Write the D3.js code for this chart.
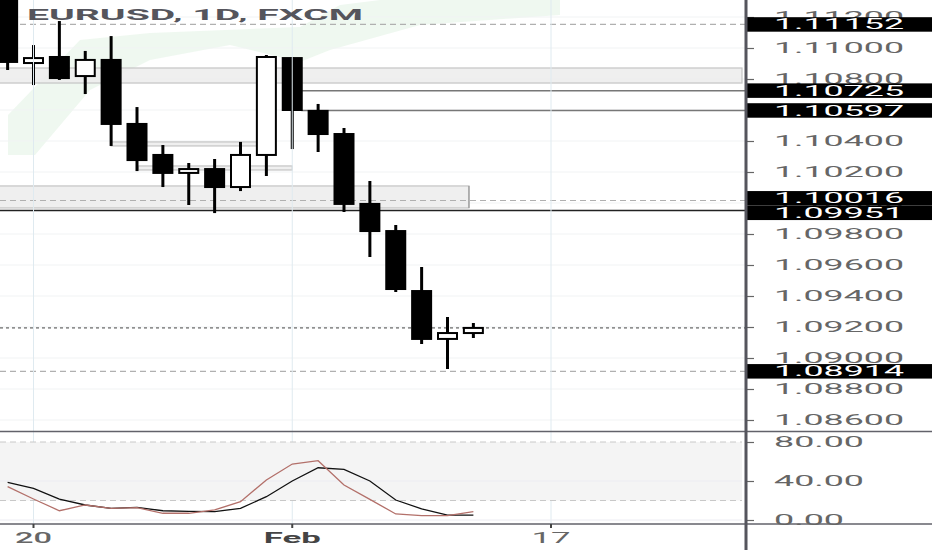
<!DOCTYPE html>
<html>
<head>
<meta charset="utf-8">
<script src="https://cdn.jsdelivr.net/npm/d3@7"></script>
<style>
  body { margin: 0; background: #fff; }
  svg { display: block; font-family: Roboto, "DejaVu Sans", sans-serif; }
</style>
</head>
<body>
<div id="chart"></div>
<script>
// daily candles, EURUSD (index 0 = Jan 17)
const days = ["Jan 17", "Jan 20", "Jan 21", "Jan 22", "Jan 23", "Jan 24", "Jan 27", "Jan 28", "Jan 29",
  "Jan 30", "Jan 31", "Feb 3", "Feb 4", "Feb 5", "Feb 6", "Feb 7", "Feb 10", "Feb 11", "Feb 12"];
const opens = [1.11400, 1.10903, 1.10942, 1.10819, 1.10923, 1.10510, 1.10310, 1.10194, 1.10219,
  1.10103, 1.10310, 1.10935, 1.10594, 1.10445, 1.09994, 1.09819, 1.09432, 1.09123, 1.09161];
const highs = [1.11500, 1.11019, 1.11174, 1.10981, 1.11077, 1.10619, 1.10374, 1.10258, 1.10284,
  1.10394, 1.10955, 1.10942, 1.10639, 1.10484, 1.10142, 1.09858, 1.09587, 1.09265, 1.09226];
const lows = [1.10858, 1.10761, 1.10794, 1.10703, 1.10368, 1.10206, 1.10103, 1.09987, 1.09935,
  1.10077, 1.10174, 1.10348, 1.10329, 1.09942, 1.09652, 1.09426, 1.09090, 1.08929, 1.09129];
const closes = [1.10910, 1.10935, 1.10806, 1.10923, 1.10510, 1.10277, 1.10194, 1.10219, 1.10103,
  1.10310, 1.10942, 1.10600, 1.10445, 1.09994, 1.09819, 1.09445, 1.09123, 1.09161, 1.09194];

// stochastic lines
const kValues = [34.2, 21.5, 9.5, 15.4, 12.0, 12.6, 6.9, 6.9, 10.3, 18.8, 41.0, 57.4, 60.8, 35.9, 21.2, 6.2, 4.4, 4.4, 8.5];
const dValues = [38.7, 32.5, 21.5, 15.4, 12.0, 13.0, 9.5, 8.9, 8.5, 12.0, 23.9, 40.0, 53.6, 52.0, 40.0, 20.5, 11.3, 5.1, 5.1];

// axis ticks
const priceTicks = [1.086, 1.088, 1.090, 1.092, 1.094, 1.096, 1.098, 1.100, 1.102, 1.104, 1.106, 1.108, 1.110, 1.112];
const oscTicks = [0, 40, 80];
const timeTicks = [1, 11, 21];
const timeLabels = ["20", "Feb", "17"];

// drawn levels
const markedPrices = [1.11152, 1.10725, 1.10597, 1.10016, 1.09951, 1.08914];
const dashedPrices = [1.11152, 1.10016, 1.08914];
const lastPrice = 1.09194;
const boxZones = [
  { top: 1.10871, bottom: 1.10774, from: -1, to: null },
  { top: 1.10394, bottom: 1.10368, from: 4, to: 9.7 },
  { top: 1.10239, bottom: 1.10213, from: 5.05, to: 11 },
  { top: 1.10110, bottom: 1.09968, from: -1, to: 17.83 }
];
const rayLevels = [{ price: 1.10725, from: 11.35 }, { price: 1.10597, from: 11.35 }];
const solidLevel = 1.09951;

// set the dimensions of the panes
const W = 932, H = 550;
const axisX = 746, plotRight = 742;
const mainBottom = 431.5, oscBottom = 524;
const boxH = 14.5;

const svg = d3.select("#chart").append("svg")
  .attr("width", W).attr("height", H);

const x = d3.scaleLinear().domain([1, 21]).range([33.5, 551]);
const y = d3.scaleLinear().domain([1.092, 1.102]).range([327, 172]);
const yo = d3.scaleLinear().domain([0, 80]).range([520, 442]);

svg.append("clipPath").attr("id", "mainClip")
  .append("rect").attr("x", 0).attr("y", 0).attr("width", axisX - 1).attr("height", mainBottom);
svg.append("clipPath").attr("id", "oscClip")
  .append("rect").attr("x", 0).attr("y", mainBottom).attr("width", plotRight).attr("height", oscBottom - mainBottom);

const main = svg.append("g").attr("clip-path", "url(#mainClip)");

// faint green backdrop
main.append("path")
  .attr("d", "M8,115 L80,40 L150,33 L300,27 L340,5 L380,0 L560,0 L560,15 L420,25 L330,50 L300,62 L230,45 L150,60 L90,90 L35,155 L8,155 Z")
  .attr("fill", "#e9f5eb").attr("opacity", 0.75);

// horizontal grid
main.selectAll(".hgrid").data(priceTicks).enter().append("line")
  .attr("x1", 0).attr("x2", axisX)
  .attr("y1", d => y(d)).attr("y2", d => y(d))
  .attr("stroke", "#f1f3f4").attr("stroke-width", 1);

// vertical grid
svg.selectAll(".vgrid").data(timeTicks).enter().append("line")
  .attr("x1", d => x(d)).attr("x2", d => x(d))
  .attr("y1", 0).attr("y2", oscBottom)
  .attr("stroke", "#dfeaf0").attr("stroke-width", 1);

// zones
main.selectAll(".zone").data(boxZones).enter().append("rect")
  .attr("x", d => x(d.from))
  .attr("y", d => y(d.top))
  .attr("width", d => (d.to === null ? plotRight : x(d.to)) - x(d.from))
  .attr("height", d => y(d.bottom) - y(d.top))
  .attr("fill", "#ececec").attr("fill-opacity", 0.85)
  .attr("stroke", "#c4c4c4").attr("stroke-width", 1.2);
main.selectAll(".zoneEdge").data(boxZones.filter(d => d.to !== null && d.top - d.bottom > 0.001)).enter().append("line")
  .attr("x1", d => x(d.to)).attr("x2", d => x(d.to))
  .attr("y1", d => y(d.top)).attr("y2", d => y(d.bottom))
  .attr("stroke", "#888").attr("stroke-width", 1);

// rays
main.selectAll(".ray").data(rayLevels).enter().append("line")
  .attr("x1", d => x(d.from)).attr("x2", axisX)
  .attr("y1", d => y(d.price)).attr("y2", d => y(d.price))
  .attr("stroke", "#777").attr("stroke-width", 1.5);

// dashed levels
main.selectAll(".dash").data(dashedPrices).enter().append("line")
  .attr("x1", 0).attr("x2", axisX)
  .attr("y1", d => y(d)).attr("y2", d => y(d))
  .attr("stroke", "#b0b0b0").attr("stroke-width", 1.2)
  .attr("stroke-dasharray", "6,4");
main.append("line")
  .attr("x1", 0).attr("x2", axisX)
  .attr("y1", y(solidLevel)).attr("y2", y(solidLevel))
  .attr("stroke", "#222").attr("stroke-width", 1.5);
main.append("line")
  .attr("x1", 0).attr("x2", axisX)
  .attr("y1", y(lastPrice)).attr("y2", y(lastPrice))
  .attr("stroke", "#444").attr("stroke-width", 1)
  .attr("stroke-dasharray", "3,3");

// candles
const candles = main.selectAll(".candle").data(days).enter().append("g");
candles.append("line")
  .attr("x1", (d, i) => x(i)).attr("x2", (d, i) => x(i))
  .attr("y1", (d, i) => y(highs[i])).attr("y2", (d, i) => y(lows[i]))
  .attr("stroke", "#000").attr("stroke-width", 3);
candles.append("rect")
  .attr("x", (d, i) => x(i) - 9.5)
  .attr("y", (d, i) => y(Math.max(opens[i], closes[i])))
  .attr("width", 19)
  .attr("height", (d, i) => Math.max(2, Math.abs(y(opens[i]) - y(closes[i]))))
  .attr("fill", (d, i) => closes[i] >= opens[i] ? "#fff" : "#000")
  .attr("stroke", "#000").attr("stroke-width", 2);

// title
svg.append("text")
  .attr("x", 27).attr("y", 20)
  .attr("textLength", 336).attr("lengthAdjust", "spacingAndGlyphs")
  .attr("font-size", 14).attr("font-weight", "bold")
  .attr("fill", "#55555c")
  .text("EURUSD, 1D, FXCM");

// oscillator band
svg.append("rect")
  .attr("x", 0).attr("y", yo(80)).attr("width", plotRight).attr("height", yo(20) - yo(80))
  .attr("fill", "#f4f4f4");
svg.selectAll(".oscDash").data([80, 20]).enter().append("line")
  .attr("x1", 0).attr("x2", plotRight)
  .attr("y1", d => yo(d)).attr("y2", d => yo(d))
  .attr("stroke", "#c8c8c8").attr("stroke-dasharray", "6,4");
svg.selectAll(".oscGrid").data([40, 0]).enter().append("line")
  .attr("x1", 0).attr("x2", plotRight)
  .attr("y1", d => yo(d)).attr("y2", d => yo(d))
  .attr("stroke", "#ececf2");

const osc = svg.append("g").attr("clip-path", "url(#oscClip)");
const line = d3.line().x((d, i) => x(i)).y(d => yo(d));
osc.append("path").datum(dValues).attr("d", line)
  .attr("fill", "none").attr("stroke", "#111").attr("stroke-width", 1.3);
osc.append("path").datum(kValues).attr("d", line)
  .attr("fill", "none").attr("stroke", "#b3706a").attr("stroke-width", 1.3);

// pane separators
svg.selectAll(".sep").data([mainBottom, oscBottom]).enter().append("line")
  .attr("x1", 0).attr("x2", W)
  .attr("y1", d => d).attr("y2", d => d)
  .attr("stroke", "#62626a").attr("stroke-width", 1.5);

// price axis
const priceAxis = svg.append("g")
  .attr("transform", "translate(" + axisX + ",0)")
  .call(d3.axisRight(y).tickValues(priceTicks).tickFormat(d3.format(".5f")).tickSize(8));
const oscAxis = svg.append("g")
  .attr("transform", "translate(" + axisX + ",0)")
  .call(d3.axisRight(yo).tickValues(oscTicks).tickFormat(d3.format(".2f")).tickSize(8));
[priceAxis, oscAxis].forEach(function (ax) {
  ax.select(".domain").remove();
  ax.selectAll(".tick line").attr("stroke", "#666").attr("stroke-width", 1.2);
  ax.selectAll("text")
    .attr("x", 28)
    .attr("fill", "#666")
    .attr("font-size", 14)
    .attr("font-family", "Roboto, sans-serif")
    .attr("lengthAdjust", "spacingAndGlyphs");
});
priceAxis.selectAll("text").attr("textLength", 130);
oscAxis.selectAll("text").attr("textLength", d => d === 0 ? 70 : 90);

// marked price labels, pushed apart where they collide
const markPos = markedPrices.map(p => ({ price: p, cy: y(p) })).sort((a, b) => a.cy - b.cy);
for (let k = 1; k < markPos.length; k++) {
  const gap = markPos[k].cy - markPos[k - 1].cy;
  if (gap < boxH) {
    const shift = (boxH - gap) / 2;
    markPos[k - 1].cy -= shift;
    markPos[k].cy += shift;
  }
}
const marks = svg.selectAll(".mark").data(markPos).enter().append("g")
  .attr("transform", d => "translate(" + axisX + "," + d.cy + ")");
marks.append("rect")
  .attr("x", 0).attr("y", -boxH / 2).attr("width", W - axisX).attr("height", boxH)
  .attr("fill", "#000");
marks.append("text")
  .attr("x", 28).attr("dy", "0.36em")
  .attr("fill", "#fff").attr("font-size", 14)
  .attr("textLength", 130).attr("lengthAdjust", "spacingAndGlyphs")
  .text(d => d3.format(".5f")(d.price));

// vertical axis line
svg.append("line")
  .attr("x1", axisX).attr("x2", axisX).attr("y1", 0).attr("y2", H)
  .attr("stroke", "#55555d").attr("stroke-width", 3);

// time axis
svg.selectAll(".tmark").data(timeTicks).enter().append("line")
  .attr("x1", d => x(d)).attr("x2", d => x(d))
  .attr("y1", oscBottom).attr("y2", oscBottom + 4)
  .attr("stroke", "#444").attr("stroke-width", 2);
svg.selectAll(".tlabel").data(timeTicks).enter().append("text")
  .attr("x", d => x(d)).attr("y", 543)
  .attr("text-anchor", "middle")
  .attr("font-size", 14)
  .attr("font-weight", (d, i) => i === 1 ? "bold" : (i === 0 ? "500" : "normal"))
  .attr("fill", (d, i) => i === 1 ? "#444" : "#666")
  .attr("textLength", (d, i) => [37, 57, 39][i]).attr("lengthAdjust", "spacingAndGlyphs")
  .text((d, i) => timeLabels[i]);
</script>
</body>
</html>
